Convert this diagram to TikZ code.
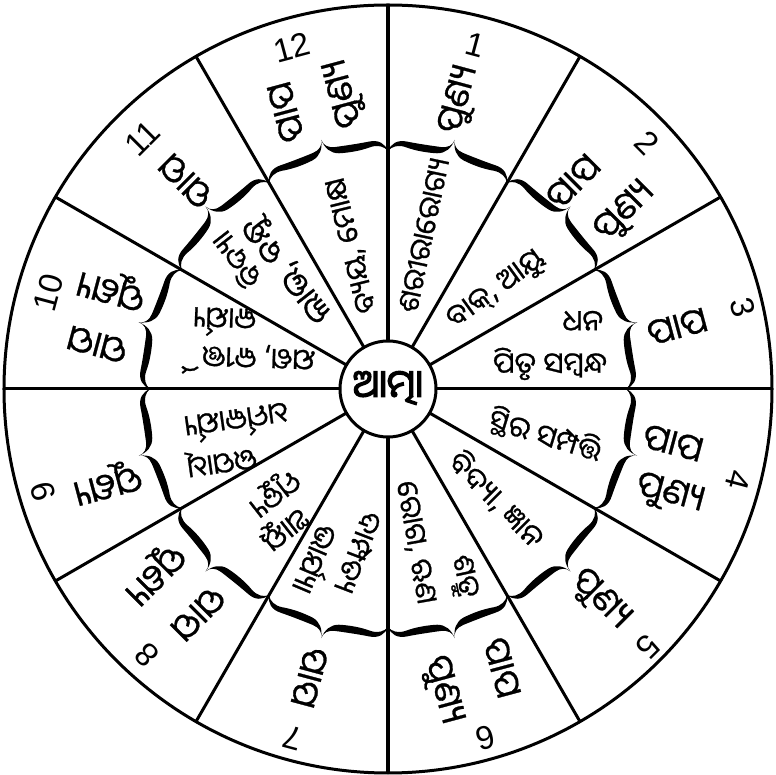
\documentclass[tikz,border=0pt]{standalone}
\usepackage{fontspec}
\newfontfamily\odia[Script=Oriya,FakeBold=0.8]{Noto Sans Oriya UI}
\newfontfamily\odiabf[Script=Oriya,FakeBold=3.5]{Noto Sans Oriya UI}
\newfontfamily\digitfont{Liberation Sans}
\begin{document}
\begin{tikzpicture}[x=1pt,y=1pt,
  ln/.style={line width=3pt},
  wd/.style={font=\odia\fontsize{36}{38}\selectfont, inner sep=0pt},
  inr/.style={font=\odia\fontsize{29}{31}\selectfont, inner sep=0pt},
  inrl/.style={font=\odia\fontsize{32}{34}\selectfont, inner sep=0pt},
  num/.style={font=\digitfont\fontsize{33}{35}\selectfont, inner sep=0pt},
  cbrace/.pic={
    \fill (0,0) .. controls (1,8) and (6,13.5) .. (16,14) .. controls (28,14.8) and (42,16.5) .. (50,17.5) .. controls (57,18.5) and (61,22) .. (61.6,28) .. controls (60.5,19) and (56,12.5) .. (48,10.5) .. controls (38,8.3) and (26,7.3) .. (16,8.3) .. controls (8,8.8) and (2.5,5.5) .. (0,0) -- cycle;
    \begin{scope}[xshift=123.2pt, xscale=-1]
    \fill (0,0) .. controls (1,8) and (6,13.5) .. (16,14) .. controls (28,14.8) and (42,16.5) .. (50,17.5) .. controls (57,18.5) and (61,22) .. (61.6,28) .. controls (60.5,19) and (56,12.5) .. (48,10.5) .. controls (38,8.3) and (26,7.3) .. (16,8.3) .. controls (8,8.8) and (2.5,5.5) .. (0,0) -- cycle;
    \end{scope}
  }
]
\useasboundingbox (-388,-386) rectangle (388,389);
\node[circle, draw, ln, minimum size=768pt, outer sep=0pt, inner sep=0pt] (o) at (0,0) {};
\node[circle, draw, ln, fill=white, minimum size=96pt, outer sep=0pt, inner sep=0pt] (c) at (0,0) {};
\foreach \a in {0,30,...,330} \draw[ln] (c.\a) -- (o.\a);
\node[font=\odiabf\fontsize{38}{40}\selectfont, inner sep=0pt] (ct) at (0,1) {ଆତ୍ମା};
% braces
\foreach \t in {75,45,...,-255} \pic[rotate=\t-90] at (\t+15:238) {cbrace};
% numbers
\node[num, rotate=-15]  (n1)  at (75.8:355)   {1};
\node[num, rotate=-45]  (n2)  at (43.5:357)   {2};
\node[num, rotate=-75]  (n3)  at (12.9:364)   {3};
\node[num, rotate=-105] (n4)  at (-14.6:362)  {4};
\node[num, rotate=-135] (n5)  at (-44.8:366)  {5};
\node[num, rotate=-165] (n6)  at (-74.3:362)  {6};
\node[num, rotate=165]  (n7)  at (-105.2:362) {7};
\node[num, rotate=135]  (n8)  at (227.8:359)  {8};
\node[num, rotate=105]  (n9)  at (196.6:360)  {9};
\node[num, rotate=75]   (n10) at (164.2:353)  {10};
\node[num, rotate=45]   (n11) at (134.4:351)  {11};
\node[num, rotate=15]   (n12) at (105.7:355)  {12};
% outer words
\node[wd, rotate=75]   (w1)  at (76:298)     {ପୁଣ୍ୟ};
\node[wd, rotate=45]   (w2a) at (48:278)     {ପାପ};
\node[wd, rotate=45]   (w2b) at (36.7:296)   {ପୁଣ୍ୟ};
\node[wd, rotate=15]   (w3)  at (11.9:296)   {ପାପ};
\node[wd, rotate=-15]  (w4a) at (-11:290)    {ପାପ};
\node[wd, rotate=-15]  (w4b) at (-20.6:301)  {ପୁଣ୍ୟ};
\node[wd, rotate=-45]  (w5)  at (-44.9:299)  {ପୁଣ୍ୟ};
\node[wd, rotate=-75]  (w6a) at (-68:301)    {ପାପ};
\node[wd, rotate=-75]  (w6b) at (-79.8:306)  {ପୁଣ୍ୟ};
\node[wd, rotate=-105] (w7)  at (-105.5:299) {ପାପ};
\node[wd, rotate=225]  (w8a) at (229.5:294)  {ପାପ};
\node[wd, rotate=225]  (w8b) at (218:298)    {ପୁଣ୍ୟ};
\node[wd, rotate=195]  (w9)  at (198.3:296)  {ପୁଣ୍ୟ};
\node[wd, rotate=165]  (w10a) at (171:294)   {ପାପ};
\node[wd, rotate=165]  (w10b) at (159.9:294) {ପୁଣ୍ୟ};
\node[wd, rotate=135]  (w11) at (133.9:290)  {ପାପ};
\node[wd, rotate=105]  (w12a) at (110:295)   {ପାପ};
\node[wd, rotate=105]  (w12b) at (98.3:299)  {ପୁଣ୍ୟ};
% inner texts
\node[inr, rotate=78]   (i1)  at (76.5:158)  {ଶରୀରାରୋଗ୍ୟ};
\node[inr, rotate=36]   (i2)  at (42.2:147)  {ବାକ୍, ଆୟୁ};
\node[inr]              (i3a) at (19:206)    {ଧନ};
\node[inr]              (i3b) at (8.8:164)   {ପିତୃ ସମ୍ବନ୍ଧ};
\node[inr, rotate=-17]  (i4)  at (-16.3:164) {ସ୍ଥିର ସମ୍ପତ୍ତି};
\node[inr, rotate=-45]  (i5)  at (-45.3:155) {ବିଦ୍ୟା, ଜ୍ଞାନ};
\node[inr, rotate=-78]  (i6a) at (-68.3:202) {ଶତ୍ରୁ};
\node[inr, rotate=-80]  (i6b) at (-80:156)   {ରୋଗ, ଋଣ};
\node[inr, rotate=-111] (i7a) at (-100.4:166) {ଦାମ୍ପତ୍ୟ};
\node[inr, rotate=-113] (i7b) at (-112.5:185) {ଭାର୍ଯ୍ୟା};
\node[inr, rotate=218]  (i8a) at (232.9:174) {ଆୟୁ};
\node[inr, rotate=218]  (i8b) at (221.8:154) {ମୃତ୍ୟୁ};
\node[inr, rotate=188]  (i9a) at (203.2:181) {ଉପାଧି};
\node[inr, rotate=188]  (i9b) at (192.3:155) {ଧର୍ମକାର୍ଯ୍ୟ};
\node[inr, rotate=178]  (i10a) at (168.4:144) {ଯଶ, କୀର୍ତ୍ତି};
\node[inr, rotate=178]  (i10b) at (157.4:177) {କାର୍ଯ୍ୟ};
\node[inr, rotate=128]  (i11a) at (139.5:199) {ବିଦ୍ୟା};
\node[inrl, rotate=128] (i11b) at (129.4:156) {ଲାଭ, ବନ୍ଧୁ};
\node[inr, rotate=104]  (i12) at (104:148)   {ବ୍ୟୟ, ମୋକ୍ଷ};
\end{tikzpicture}
\end{document}
